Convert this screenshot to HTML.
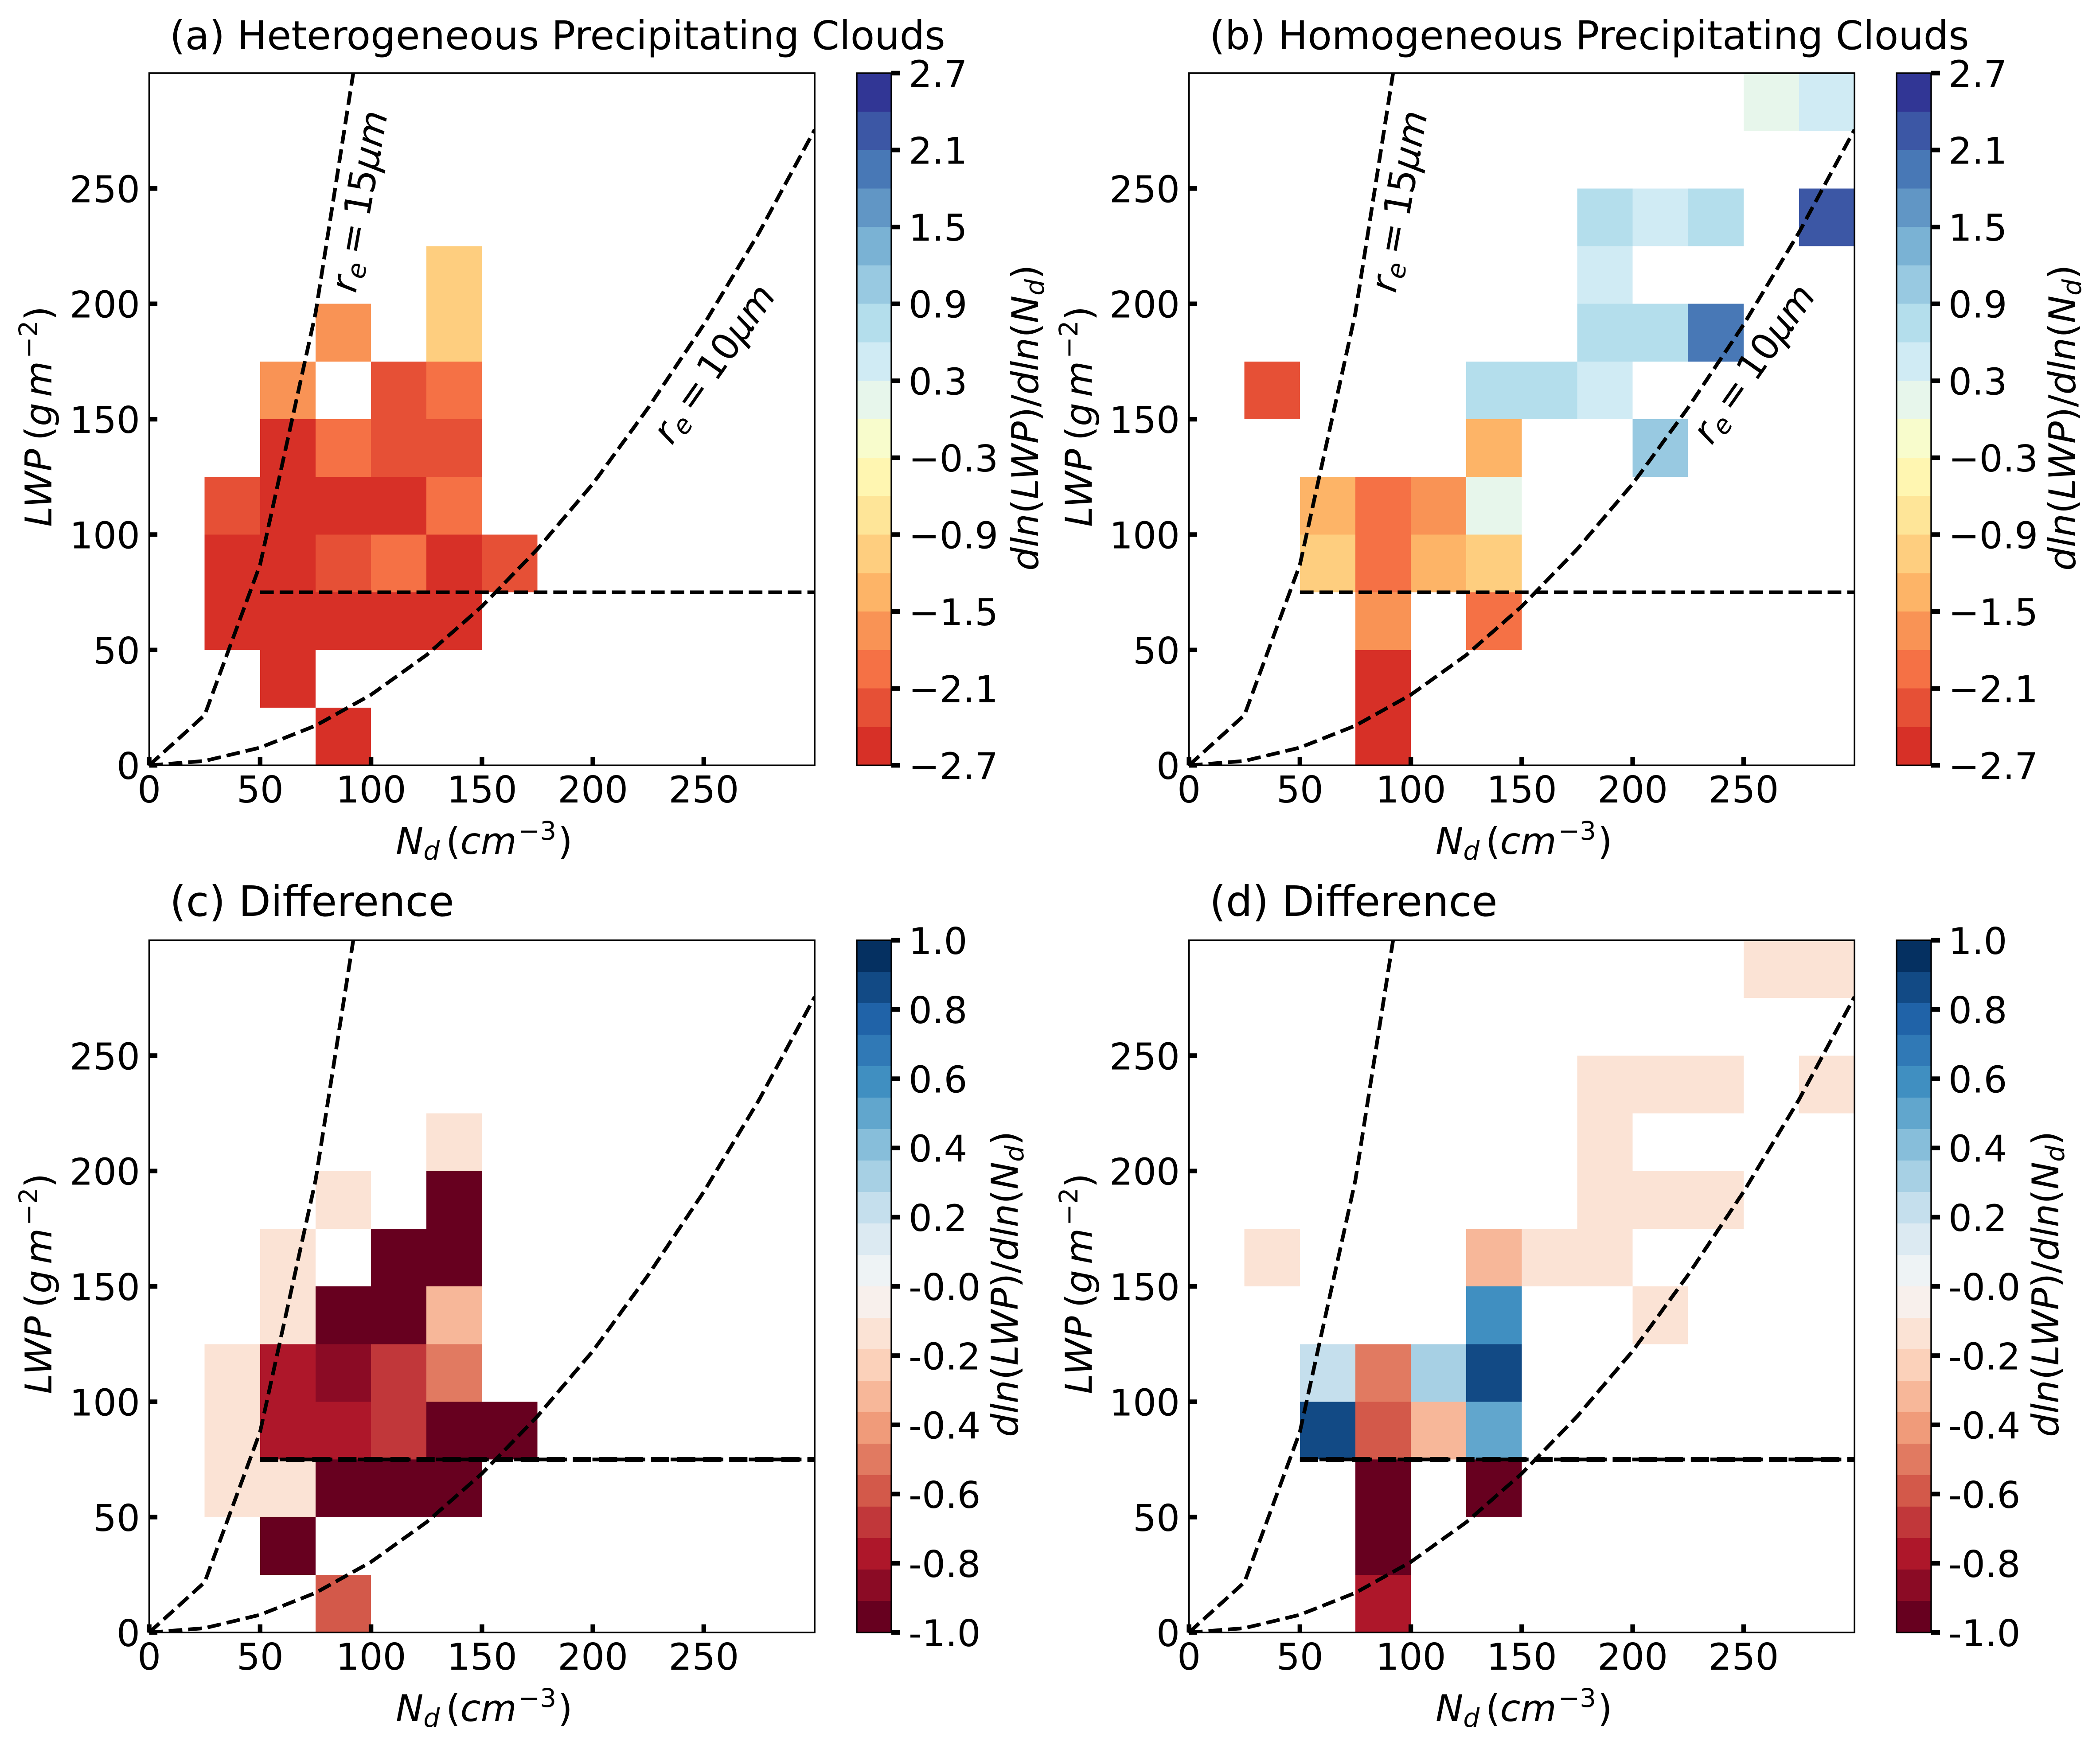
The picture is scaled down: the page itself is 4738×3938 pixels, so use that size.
<!DOCTYPE html>
<html lang="en">
<head>
<meta charset="utf-8">
<title>LWP versus Nd susceptibility panels</title>
<style>
html,body{margin:0;padding:0;background:#fff;}
svg{display:block;}
text{font-family:"DejaVu Sans","Liberation Sans",sans-serif;font-size:83.3px;fill:#000;}
.t{font-size:89.1px;}
.t2{font-size:94.3px;}
.i{font-style:italic;}
.s{font-size:58px;}
</style>
</head>
<body>
<svg id="figure" xmlns="http://www.w3.org/2000/svg" width="4738" height="3938" viewBox="0 0 4738 3938">
<rect x="0" y="0" width="4738" height="3938" fill="#ffffff"/>

<g id="panel-a" transform="translate(0,0)">
<g id="plot-a"></g>
<text class="t" x="383" y="111">(a) Heterogeneous Precipitating Clouds</text>
<text x="893" y="1927"><tspan class="i">N</tspan><tspan class="i s" dy="13">d</tspan><tspan dy="-13" dx="14">(</tspan><tspan class="i">cm</tspan><tspan class="s" dy="-32" dx="4">−3</tspan><tspan dy="32" dx="4">)</tspan></text>
<text transform="translate(116,1189) rotate(-90)"><tspan class="i">LWP</tspan><tspan dx="19">(</tspan><tspan class="i">g</tspan><tspan class="i" dx="13">m</tspan><tspan class="s" dy="-32" dx="6">−2</tspan><tspan dy="32">)</tspan></text>
<text transform="translate(2342,1288) rotate(-90)"><tspan class="i">dln</tspan>(<tspan class="i">LWP</tspan>)/<tspan class="i">dln</tspan>(<tspan class="i">N</tspan><tspan class="i s" dy="13">d</tspan><tspan dy="-13">)</tspan></text>
<text transform="translate(802.6,663) rotate(-80)"><tspan class="i">r</tspan><tspan class="i s" dy="13">e</tspan><tspan dy="-13" dx="17">=</tspan><tspan dx="17">15</tspan><tspan class="i">μm</tspan></text>
<text transform="translate(1515.4,1006.5) rotate(-55)"><tspan class="i">r</tspan><tspan class="i s" dy="13">e</tspan><tspan dy="-13" dx="17">=</tspan><tspan dx="17">10</tspan><tspan class="i">μm</tspan></text>
</g>

<g id="panel-b" transform="translate(2346,0)">
<g id="plot-b"></g>
<text class="t" x="383" y="111">(b) Homogeneous Precipitating Clouds</text>
<text x="893" y="1927"><tspan class="i">N</tspan><tspan class="i s" dy="13">d</tspan><tspan dy="-13" dx="14">(</tspan><tspan class="i">cm</tspan><tspan class="s" dy="-32" dx="4">−3</tspan><tspan dy="32" dx="4">)</tspan></text>
<text transform="translate(117,1189) rotate(-90)"><tspan class="i">LWP</tspan><tspan dx="19">(</tspan><tspan class="i">g</tspan><tspan class="i" dx="13">m</tspan><tspan class="s" dy="-32" dx="6">−2</tspan><tspan dy="32">)</tspan></text>
<text transform="translate(2336,1288) rotate(-90)"><tspan class="i">dln</tspan>(<tspan class="i">LWP</tspan>)/<tspan class="i">dln</tspan>(<tspan class="i">N</tspan><tspan class="i s" dy="13">d</tspan><tspan dy="-13">)</tspan></text>
<text transform="translate(802.6,663) rotate(-80)"><tspan class="i">r</tspan><tspan class="i s" dy="13">e</tspan><tspan dy="-13" dx="17">=</tspan><tspan dx="17">15</tspan><tspan class="i">μm</tspan></text>
<text transform="translate(1515.4,1006.5) rotate(-55)"><tspan class="i">r</tspan><tspan class="i s" dy="13">e</tspan><tspan dy="-13" dx="17">=</tspan><tspan dx="17">10</tspan><tspan class="i">μm</tspan></text>
</g>

<g id="panel-c" transform="translate(0,1957)">
<g id="plot-c"></g>
<text class="t2" x="383" y="110">(c) Difference</text>
<text x="893" y="1927"><tspan class="i">N</tspan><tspan class="i s" dy="13">d</tspan><tspan dy="-13" dx="14">(</tspan><tspan class="i">cm</tspan><tspan class="s" dy="-32" dx="4">−3</tspan><tspan dy="32" dx="4">)</tspan></text>
<text transform="translate(116,1189) rotate(-90)"><tspan class="i">LWP</tspan><tspan dx="19">(</tspan><tspan class="i">g</tspan><tspan class="i" dx="13">m</tspan><tspan class="s" dy="-32" dx="6">−2</tspan><tspan dy="32">)</tspan></text>
<text transform="translate(2296,1286) rotate(-90)"><tspan class="i">dln</tspan>(<tspan class="i">LWP</tspan>)/<tspan class="i">dln</tspan>(<tspan class="i">N</tspan><tspan class="i s" dy="13">d</tspan><tspan dy="-13">)</tspan></text>
</g>

<g id="panel-d" transform="translate(2346,1957)">
<g id="plot-d"></g>
<text class="t2" x="383" y="110">(d) Difference</text>
<text x="893" y="1927"><tspan class="i">N</tspan><tspan class="i s" dy="13">d</tspan><tspan dy="-13" dx="14">(</tspan><tspan class="i">cm</tspan><tspan class="s" dy="-32" dx="4">−3</tspan><tspan dy="32" dx="4">)</tspan></text>
<text transform="translate(117,1189) rotate(-90)"><tspan class="i">LWP</tspan><tspan dx="19">(</tspan><tspan class="i">g</tspan><tspan class="i" dx="13">m</tspan><tspan class="s" dy="-32" dx="6">−2</tspan><tspan dy="32">)</tspan></text>
<text transform="translate(2298,1286) rotate(-90)"><tspan class="i">dln</tspan>(<tspan class="i">LWP</tspan>)/<tspan class="i">dln</tspan>(<tspan class="i">N</tspan><tspan class="i s" dy="13">d</tspan><tspan dy="-13">)</tspan></text>
</g>
</svg>

<script>
const _ = null;

// Axis tick values
const xTicks = [0, 50, 100, 150, 200, 250];
const yTicks = [0, 50, 100, 150, 200, 250];

// Bin edges: lower edge of each column / row (bin width 25)
const nBins = [0, 25, 50, 75, 100, 125, 150, 175, 200, 225, 250, 275];
const lwpBins = [0, 25, 50, 75, 100, 125, 150, 175, 200, 225, 250, 275];

// Reference curves (Nd, LWP)
const curveNd = [0, 25, 50, 75, 100, 125, 150, 175, 200, 225, 250, 275, 300];
const curveRe10 = [0, 1.9, 7.7, 17.2, 30.6, 47.8, 68.9, 93.7, 122, 155, 191, 231, 275.5];
const curveRe15 = [0, 21.8, 87, 196, 349, 545, 784, 1067, 1394, 1764, 2178, 2635, 3136];

// Threshold line at LWP = 75, from Nd = 50 to 300
const thresholdNd = [50, 300];
const thresholdLwp = [75, 75];

// Colour scales
const topLevels = [-2.7, 2.7];
const topColors = ['#d73027','#e65036','#f57145','#f99355','#fdb467','#fece7f','#fee598','#fff6b1','#f8fccc','#e7f6eb','#d0ebf4','#b4deec','#98c9e1','#7ab2d4','#6196c5','#4878b6','#3c57a5','#313695'];
const topTickLabels = ['−2.7','−2.1','−1.5','−0.9','−0.3','0.3','0.9','1.5','2.1','2.7'];
const topTickValues = [-2.7,-2.1,-1.5,-0.9,-0.3,0.3,0.9,1.5,2.1,2.7];
const diffLevels = [-1, 1];
const diffColors = ['#67001f','#8b0b25','#ae172a','#c1373a','#d3594a','#e17a61','#f09b7a','#f7b799','#fbd1ba','#fbe3d5','#f8f0ec','#eef3f5','#dceaf2','#c5dfed','#a7d0e4','#87beda','#61a6cd','#408fc1','#3079b6','#2063a8','#124a85','#053061'];
const diffTickLabels = ['-1.0','-0.8','-0.6','-0.4','-0.2','-0.0','0.2','0.4','0.6','0.8','1.0'];
const diffTickValues = [-1,-0.8,-0.6,-0.4,-0.2,0,0.2,0.4,0.6,0.8,1];

// Heatmap values; rows run from LWP 0-25 upward, columns from Nd 0-25 rightward
const valuesA = [
 [_,_,_,-2.55,_,_,_,_,_,_,_,_],
 [_,_,-2.55,_,_,_,_,_,_,_,_,_],
 [_,-2.55,-2.55,-2.55,-2.55,-2.55,_,_,_,_,_,_],
 [_,-2.55,-2.55,-2.25,-1.95,-2.55,-2.25,_,_,_,_,_],
 [_,-2.25,-2.55,-2.55,-2.55,-1.95,_,_,_,_,_,_],
 [_,_,-2.55,-1.95,-2.25,-2.25,_,_,_,_,_,_],
 [_,_,-1.65,_,-2.25,-1.95,_,_,_,_,_,_],
 [_,_,_,-1.65,_,-1.05,_,_,_,_,_,_],
 [_,_,_,_,_,-1.05,_,_,_,_,_,_],
 [_,_,_,_,_,_,_,_,_,_,_,_],
 [_,_,_,_,_,_,_,_,_,_,_,_],
 [_,_,_,_,_,_,_,_,_,_,_,_]
];
const valuesB = [
 [_,_,_,-2.55,_,_,_,_,_,_,_,_],
 [_,_,_,-2.55,_,_,_,_,_,_,_,_],
 [_,_,_,-1.65,_,-1.95,_,_,_,_,_,_],
 [_,_,-1.05,-1.95,-1.35,-1.05,_,_,_,_,_,_],
 [_,_,-1.35,-1.95,-1.65,0.15,_,_,_,_,_,_],
 [_,_,_,_,_,-1.35,_,_,1.05,_,_,_],
 [_,-2.25,_,_,_,0.75,0.75,0.45,_,_,_,_],
 [_,_,_,_,_,_,_,0.75,0.75,1.95,_,_],
 [_,_,_,_,_,_,_,0.45,_,_,_,_],
 [_,_,_,_,_,_,_,0.75,0.45,0.75,_,2.25],
 [_,_,_,_,_,_,_,_,_,_,_,_],
 [_,_,_,_,_,_,_,_,_,_,0.15,0.45]
];
const valuesC = [
 [_,_,_,-0.591,_,_,_,_,_,_,_,_],
 [_,_,-0.955,_,_,_,_,_,_,_,_,_],
 [_,-0.136,-0.136,-0.955,-0.955,-0.955,_,_,_,_,_,_],
 [_,-0.136,-0.773,-0.773,-0.682,-0.955,-0.955,_,_,_,_,_],
 [_,-0.136,-0.773,-0.864,-0.682,-0.5,_,_,_,_,_,_],
 [_,_,-0.136,-0.955,-0.955,-0.318,_,_,_,_,_,_],
 [_,_,-0.136,_,-0.955,-0.955,_,_,_,_,_,_],
 [_,_,_,-0.136,_,-0.955,_,_,_,_,_,_],
 [_,_,_,_,_,-0.136,_,_,_,_,_,_],
 [_,_,_,_,_,_,_,_,_,_,_,_],
 [_,_,_,_,_,_,_,_,_,_,_,_],
 [_,_,_,_,_,_,_,_,_,_,_,_]
];
const valuesD = [
 [_,_,_,-0.773,_,_,_,_,_,_,_,_],
 [_,_,_,-0.955,_,_,_,_,_,_,_,_],
 [_,_,_,-0.955,_,-0.955,_,_,_,_,_,_],
 [_,_,0.864,-0.591,-0.318,0.5,_,_,_,_,_,_],
 [_,_,0.227,-0.5,0.318,0.864,_,_,_,_,_,_],
 [_,_,_,_,_,0.591,_,_,-0.136,_,_,_],
 [_,-0.136,_,_,_,-0.318,-0.136,-0.136,_,_,_,_],
 [_,_,_,_,_,_,_,-0.136,-0.136,-0.136,_,_],
 [_,_,_,_,_,_,_,-0.136,_,_,_,_],
 [_,_,_,_,_,_,_,-0.136,-0.136,-0.136,_,-0.136],
 [_,_,_,_,_,_,_,_,_,_,_,_],
 [_,_,_,_,_,_,_,_,_,_,-0.136,-0.136]
];

const NS = 'http://www.w3.org/2000/svg';
const PLOT = {left: 336.6, right: 1838.1, top: 165, bottom: 1727.2, xMax: 300, yMax: 300};
const CBAR = {left: 1933, right: 2011};

function xScale(v) { return PLOT.left + (v / PLOT.xMax) * (PLOT.right - PLOT.left); }
function yScale(v) { return PLOT.bottom - (v / PLOT.yMax) * (PLOT.bottom - PLOT.top); }
function cbarScale(v, range) { return PLOT.bottom - ((v - range[0]) / (range[1] - range[0])) * (PLOT.bottom - PLOT.top); }
function colorFor(v, range, colors) {
  let k = Math.floor((v - range[0]) / (range[1] - range[0]) * colors.length);
  k = Math.max(0, Math.min(colors.length - 1, k));
  return colors[k];
}
function make(tag, parent, attrs) {
  const el = document.createElementNS(NS, tag);
  for (const key in attrs) el.setAttribute(key, attrs[key]);
  parent.appendChild(el);
  return el;
}

function drawHeatmap(root, values, range, colors) {
  const binW = nBins[1] - nBins[0];
  const binH = lwpBins[1] - lwpBins[0];
  values.forEach(function (row, r) {
    row.forEach(function (v, c) {
      if (v === null) return;
      const x0 = xScale(nBins[c]);
      const x1 = xScale(nBins[c] + binW);
      const y0 = yScale(lwpBins[r] + binH);
      const y1 = yScale(lwpBins[r]);
      const el = make('rect', root, {x: x0, y: y0, width: x1 - x0, height: y1 - y0, fill: colorFor(v, range, colors), 'shape-rendering': 'crispEdges'});
      
      
    });
  });
}

function drawCurve(root, xs, ys, clipId, width, dash, name) {
  const pts = xs.map(function (x, i) { return xScale(x) + ',' + yScale(ys[i]); }).join(' ');
  const el = make('polyline', root, {points: pts, fill: 'none', stroke: '#000', 'stroke-width': width, 'stroke-dasharray': dash, 'clip-path': 'url(#' + clipId + ')', 'stroke-linejoin': 'round'});
  
  
}

function drawAxes(root) {
  const frame = make('rect', root, {x: PLOT.left, y: PLOT.top, width: PLOT.right - PLOT.left, height: PLOT.bottom - PLOT.top, fill: 'none', stroke: '#000', 'stroke-width': 3.6});
  
  
  xTicks.forEach(function (t) {
    const x = xScale(t);
    const tick = make('line', root, {x1: x, x2: x, y1: PLOT.bottom, y2: PLOT.bottom - 18.5, stroke: '#000', 'stroke-width': 10.4});
    
    
    const label = make('text', root, {x: x, y: 1811, 'text-anchor': 'middle'});
    
    
    label.textContent = String(t);
  });
  yTicks.forEach(function (t) {
    const y = yScale(t);
    const tick = make('line', root, {x1: PLOT.left, x2: PLOT.left + 18.5, y1: y, y2: y, stroke: '#000', 'stroke-width': 10.4});
    
    
    const label = make('text', root, {x: 316, y: y + 31, 'text-anchor': 'end'});
    
    
    label.textContent = String(t);
  });
}

function drawColorbar(root, range, colors, tickValues, tickLabels) {
  const step = (range[1] - range[0]) / colors.length;
  colors.forEach(function (color, i) {
    const y0 = cbarScale(range[0] + (i + 1) * step, range);
    const y1 = cbarScale(range[0] + i * step, range);
    const band = make('rect', root, {x: CBAR.left, y: y0, width: CBAR.right - CBAR.left, height: y1 - y0, fill: color, 'shape-rendering': 'crispEdges'});
    
    
  });
  const outline = make('rect', root, {x: CBAR.left, y: PLOT.top, width: CBAR.right - CBAR.left, height: PLOT.bottom - PLOT.top, fill: 'none', stroke: '#000', 'stroke-width': 3.4});
  
  
  tickValues.forEach(function (v, i) {
    const y = cbarScale(v, range);
    const tick = make('line', root, {x1: CBAR.right, x2: CBAR.right + 20, y1: y, y2: y, stroke: '#000', 'stroke-width': 10.4});
    
    
    const label = make('text', root, {x: 2050, y: y + 31});
    
    
    label.textContent = tickLabels[i];
  });
}

function drawPanel(id, values, range, colors, tickValues, tickLabels, doubled) {
  const root = document.getElementById('plot-' + id);
  const clipId = 'clip-' + id;
  const clip = make('clipPath', root, {id: clipId});
  make('rect', clip, {x: PLOT.left, y: PLOT.top, width: PLOT.right - PLOT.left, height: PLOT.bottom - PLOT.top});
  drawHeatmap(root, values, range, colors);
  drawCurve(root, curveNd, curveRe15, clipId, 8.33, '30.8 13.3', 're-15-curve');
  drawCurve(root, curveNd, curveRe10, clipId, 8.33, '30.8 13.3', 're-10-curve');
  drawCurve(root, thresholdNd, thresholdLwp, clipId, 8.33, '30.8 13.3', 'threshold-line');
  if (doubled) {
    drawCurve(root, thresholdNd, thresholdLwp, clipId, 11.1, '41.1 17.7', 'threshold-line-overlay');
  }
  drawAxes(root);
  drawColorbar(root, range, colors, tickValues, tickLabels);
}

drawPanel('a', valuesA, topLevels, topColors, topTickValues, topTickLabels, false);
drawPanel('b', valuesB, topLevels, topColors, topTickValues, topTickLabels, false);
drawPanel('c', valuesC, diffLevels, diffColors, diffTickValues, diffTickLabels, true);
drawPanel('d', valuesD, diffLevels, diffColors, diffTickValues, diffTickLabels, true);
</script>
</body>
</html>
